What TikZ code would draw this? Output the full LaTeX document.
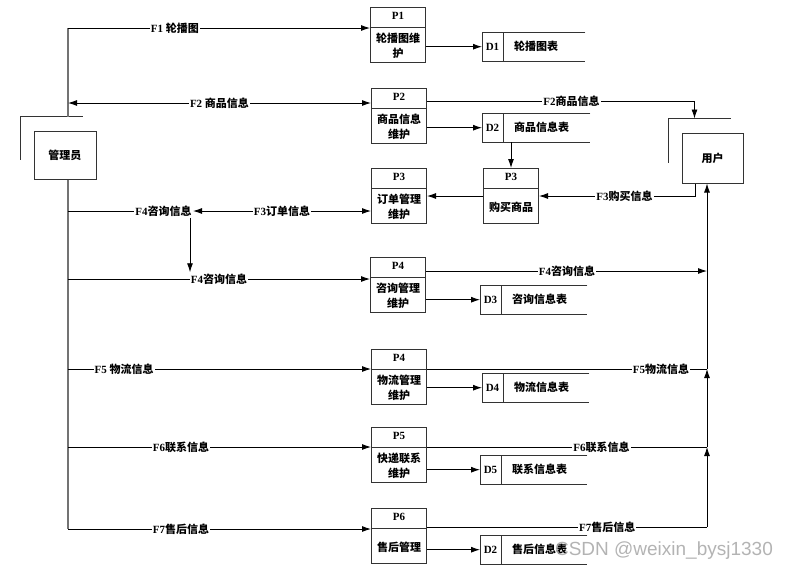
\documentclass[tikz,border=0pt]{standalone}
\usepackage{fontspec}
\setmainfont{Liberation Serif}
\newfontfamily\cjk{Noto Sans CJK SC}
\newfontfamily\wmfont{Liberation Sans}
\usetikzlibrary{arrows.meta,calc}
\newcommand\zh[1]{{\cjk #1}}
\tikzset{
  base/.style={font=\bfseries\fontsize{11}{15}\selectfont, inner sep=0pt},
  zbase/.style={font=\bfseries\cjk\fontsize{11}{15}\selectfont, inner sep=0pt, align=center},
  procb/.style={draw=black!80, line width=1pt, minimum width=55pt, minimum height=55pt, inner sep=0pt, anchor=north west},
  storeb/.style={minimum height=29pt, inner sep=0pt, anchor=north west},
  boxline/.style={draw=black!80, line width=1pt},
  >={Latex[length=9pt,width=6pt]},
  flow/.style={draw=black, line width=0.9pt, ->},
  flowb/.style={draw=black, line width=0.9pt, <->},
  plain/.style={draw=black, line width=0.9pt},
  trunk/.style={draw=black!55, line width=1.3pt},
  lbl/.style={base, fill=white, inner sep=1pt},
}
\newcommand\proc[5]{%
  \node[procb] (#1) at (#2,#3) {};
  \draw[boxline] ([yshift=-20pt]#1.north west) -- ([yshift=-20pt]#1.north east);
  \node[base] (#1h) at ([yshift=-9pt]#1.north) {#4};
  \node[zbase] (#1b) at ([yshift=-39pt]#1.north) {#5};
}
\newcommand\store[6]{%
  \node[storeb, minimum width=#4pt] (#1) at (#2,#3) {};
  \draw[boxline] (#1.north east) -- (#1.north west) -- (#1.south west) -- (#1.south east);
  \draw[boxline] ([xshift=21pt]#1.north west) -- ([xshift=21pt]#1.south west);
  \node[base] (#1id) at ([xshift=10.5pt]#1.west) {#5};
  \node[zbase, anchor=west] (#1t) at ([xshift=32pt]#1.west) {#6};
}
\begin{document}
\begin{tikzpicture}[x=1pt,y=-1pt]
\useasboundingbox (0,0) rectangle (788,571);
% external entities
\node[draw=black!80, line width=1pt, minimum width=62pt, minimum height=48pt, base] (admin) at (65,155) {\zh{管理员}};
\draw[boxline] ($(admin.north west)+(-13,29)$) -- ($(admin.north west)+(-13,-14)$) -- ($(admin.north west)+(49,-14)$);
\node[draw=black!80, line width=1pt, minimum width=61pt, minimum height=50pt, base] (user) at (712.5,158) {\zh{用户}};
\draw[boxline] ($(user.north west)+(-13,30)$) -- ($(user.north west)+(-13,-14)$) -- ($(user.north west)+(49,-14)$);
\coordinate (ubt) at ($(user.north west)+(13,-14)$);
% processes
\proc{p1}{370}{7}{P1}{轮播图维\\护}
\proc{p2}{371}{88}{P2}{商品信息\\维护}
\proc{p3}{371}{168}{P3}{订单管理\\维护}
\proc{p3b}{483}{168}{P3}{购买商品}
\proc{p4}{370}{257}{P4}{咨询管理\\维护}
\proc{p4b}{371}{349}{P4}{物流管理\\维护}
\proc{p5}{371}{427}{P5}{快递联系\\维护}
\proc{p6}{371}{508}{P6}{售后管理}
% data stores
\store{d1}{482}{32}{103}{D1}{轮播图表}
\store{d2}{482}{113}{108}{D2}{商品信息表}
\store{d3}{480}{285}{107}{D3}{咨询信息表}
\store{d4}{482}{373}{107}{D4}{物流信息表}
\store{d5}{480}{455}{107}{D5}{联系信息表}
\store{d6}{480}{535}{107}{D2}{售后信息表}
% trunk
\coordinate (tF1) at (68,28);
\coordinate (tF2) at (68,103);
\coordinate (tF3) at (68,211);
\coordinate (tF4) at (68,279);
\coordinate (tF5) at (68,369);
\coordinate (tF6) at (68,447);
\coordinate (tF7) at (68,529);
\coordinate (abt) at (68,117);
\draw[trunk] (tF1) -- (abt);
\draw[trunk] (admin.south -| tF1) -- (tF7);
% admin flows
\draw[flow] (tF1) -- node[lbl,pos=0.354] (lf1) {F1 \zh{轮播图}} (tF1 -| p1.west);
\draw[flowb] (tF2) -- node[lbl] (lf2) {F2 \zh{商品信息}} (tF2 -| p2.west);
\coordinate (j) at (193,211);
\draw[plain] (tF3) -- (j) node[lbl,anchor=east] (lf4a) {F4\zh{咨询信息}};
\draw[flowb] (j) -- node[lbl] (lf3) {F3\zh{订单信息}} (j -| p3.west);
\draw[flow] (tF4) -- node[lbl] (lf4b) {F4\zh{咨询信息}} (tF4 -| p4.west);
\draw[flow] ([xshift=-3pt]lf4a.south east) -- ([xshift=-3pt]lf4a.south east |- lf4b.north);
\draw[flow] (tF5) -- node[lbl,pos=0.185] (lf5) {F5 \zh{物流信息}} (tF5 -| p4b.west);
\draw[flow] (tF6) -- node[lbl,pos=0.373] (lf6) {F6\zh{联系信息}} (tF6 -| p5.west);
\draw[flow] (tF7) -- node[lbl,pos=0.373] (lf7) {F7\zh{售后信息}} (tF7 -| p6.west);
% process to store
\draw[flow] (d1.west -| p1.east) -- (d1.west);
\draw[flow] (d2.west -| p2.east) -- (d2.west);
\draw[flow] (d3.west -| p4.east) -- (d3.west);
\draw[flow] (d4.west -| p4b.east) -- (d4.west);
\draw[flow] (d5.west -| p5.east) -- (d5.west);
\draw[flow] (d6.west -| p6.east) -- (d6.west);
\draw[flow] (p3b.north |- d2.south) -- (p3b.north);
% user side
\draw[flow] ([yshift=-13pt]p2.north east) -| node[lbl,pos=0.27] (rf2) {F2\zh{商品信息}} (ubt);
\draw[flow] ([xshift=-17.5pt]user.south) |- node[lbl,pos=0.726] (rf3) {F3\zh{购买信息}} (p3b.east);
\draw[flow] (p3b.west) -- (p3b.west -| p3.east);
\coordinate (v4) at (707,271);
\coordinate (v5) at (707,369);
\coordinate (v6) at (707,447);
\coordinate (v7) at (707,527);
\draw[flow] (v4 -| p4.east) -- node[lbl,pos=0.502] (rf4) {F4\zh{咨询信息}} (v4);
\draw[plain] (v5 -| p4b.east) -- node[lbl,pos=0.836] (rf5) {F5\zh{物流信息}} (v5);
\draw[plain] (v6 -| p5.east) -- node[lbl,pos=0.623] (rf6) {F6\zh{联系信息}} (v6);
\draw[plain] (v7 -| p6.east) -- node[lbl,pos=0.644] (rf7) {F7\zh{售后信息}} (v7);
\draw[flow] (v7) -- (v6);
\draw[flow] (v6) -- (v5);
\draw[flow] (v5) -- (v5 |- user.south);
% watermark
\node[font=\wmfont\fontsize{19}{19}\selectfont, text=gray!70, opacity=0.85, inner sep=0pt] (wm) at (664,551) {CSDN @weixin\_bysj1330};
\end{tikzpicture}
\end{document}
